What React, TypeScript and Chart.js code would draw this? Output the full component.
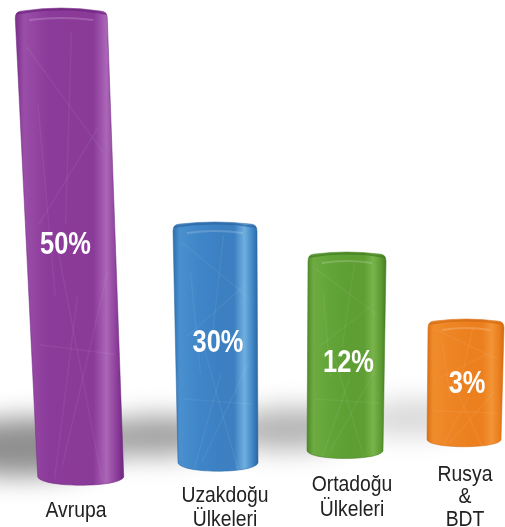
import React, { useEffect, useRef } from "react";
import { Chart, registerables, BarController, BarElement } from "chart.js";

const regions = ["Avrupa", "Uzakdoğu Ülkeleri", "Ortadoğu Ülkeleri", "Rusya & BDT"];
const shares = [50, 30, 12, 3];
const barPositions = [71, 216.5, 346, 465];
const barLows = [38, 52, 65, 77];
const barHighs = [519, 305, 275, 208];
const labelLines = [["Avrupa"], ["Uzakdoğu", "Ülkeleri"], ["Ortadoğu", "Ülkeleri"], ["Rusya", "&", "BDT"]];

const W = 505;
const H = 527;
const barFill = ["#8a3a98", "#3d82c4", "#5f9f35", "#ee8222"];
const barGradients = [
  ["#7a2e8a", "#9a4ea8", "#8b3b9a", "#8b3a98", "#8a3a98", "#ab66b8", "#8a3c98", "#6d2480"],
  ["#2f6fae", "#4a90cf", "#3f86c8", "#3c80c2", "#3c80c2", "#6fafe0", "#3f84c4", "#2b659f"],
  ["#4c8a28", "#6eab42", "#62a438", "#5e9e33", "#5e9e33", "#78b44a", "#5c9a32", "#447c22"],
  ["#d96f14", "#f08c2c", "#ee8424", "#ec801e", "#ec801e", "#f29436", "#ea7e1c", "#d06a12"],
];
// per bar: top width, bottom width, lean of the top relative to the bottom
const barShape = [
  { tw: 92, bw: 86, lean: -19.5, ry: 12, cap: 3 },
  { tw: 84, bw: 80, lean: -3, ry: 12, cap: 2 },
  { tw: 78, bw: 76, lean: 2, ry: 11, cap: 2 },
  { tw: 76, bw: 74, lean: 2, ry: 10, cap: 2 },
];
const pctStyle = [
  { x: 65.5, y: 254 },
  { x: 218, y: 352 },
  { x: 348.5, y: 372 },
  { x: 467, y: 393 },
];
const nameStyle = [
  { x: 76, y: [517] },
  { x: 225, y: [502, 526] },
  { x: 352, y: [491, 516] },
  { x: 465, y: [481, 503, 526] },
];
const shadows = [
  { x0: -40, x1: 95, y0: 418, y1: 476, c: "#8f8f8f" },
  { x0: 110, x1: 200, y0: 416, y1: 456, c: "#a0a0a0" },
  { x0: 250, x1: 330, y0: 408, y1: 450, c: "#b4b4b4" },
  { x0: 380, x1: 445, y0: 400, y1: 436, c: "#d8d8d8" },
];
// faint strokes on the cylinders, as fractions of the bar box
const streaks = [
  [0.1, 0.08, 0.9, 0.3], [0.15, 0.45, 0.85, 0.25], [0.3, 0.95, 0.9, 0.55], [0.1, 0.7, 0.95, 0.72],
  [0.35, 0.5, 0.75, 0.98], [0.55, 0.6, 0.2, 0.98], [0.2, 0.2, 0.3, 0.6], [0.6, 0.05, 0.45, 0.45],
];

class CylinderElement extends BarElement {
  static id = "cylinder";
  draw(ctx: CanvasRenderingContext2D) {
    const { x, y, base } = (this as any).getProps(["x", "y", "base"], true);
    const i = (this as any).$context.index;
    const s = barShape[i];
    const tc = x + s.lean / 2;
    const bc = x - s.lean / 2;
    const tl = tc - s.tw / 2, tr = tc + s.tw / 2;
    const bl = bc - s.bw / 2, br = bc + s.bw / 2;
    const r = 7;
    const path = () => {
      ctx.beginPath();
      ctx.moveTo(tl, y + r + s.cap);
      ctx.quadraticCurveTo(tl, y + s.cap, tl + r, y + s.cap);
      ctx.quadraticCurveTo(tc, y - s.cap, tr - r, y + s.cap);
      ctx.quadraticCurveTo(tr, y + s.cap, tr, y + r + s.cap);
      ctx.lineTo(br, base - s.ry);
      ctx.bezierCurveTo(br - 4, base - 1, bl + 4, base - 1, bl, base - s.ry);
      ctx.closePath();
    };
    ctx.save();
    path();
    const left = Math.min(tl, bl), right = Math.max(tr, br);
    const g = ctx.createLinearGradient(left, 0, right, 0);
    const stops = [0, 0.08, 0.3, 0.55, 0.72, 0.84, 0.94, 1];
    barGradients[i].forEach((c, k) => g.addColorStop(stops[k], c));
    ctx.fillStyle = g;
    ctx.fill();
    ctx.clip();
    ctx.strokeStyle = "rgba(255,255,255,0.055)";
    ctx.lineWidth = 1.5;
    streaks.forEach(([a, b, c, d]) => {
      const f = (u: number, v: number) => [tl + (bl - tl) * v + u * (s.tw + (s.bw - s.tw) * v), y + v * (base - y)];
      const p = f(a, b), q = f(c, d);
      ctx.beginPath();
      ctx.moveTo(p[0], p[1]);
      ctx.lineTo(q[0], q[1]);
      ctx.stroke();
    });
    ctx.strokeStyle = barGradients[i][7];
    ctx.globalAlpha = 0.7;
    ctx.lineWidth = 2;
    ctx.beginPath();
    ctx.moveTo(tl, y + s.cap + 3);
    ctx.quadraticCurveTo(tc, y - s.cap, tr, y + s.cap + 3);
    ctx.stroke();
    ctx.strokeStyle = "#ffffff";
    ctx.globalAlpha = 0.18;
    ctx.beginPath();
    ctx.moveTo(tl + 14, y + s.cap + 9);
    ctx.quadraticCurveTo(tc, y + s.cap + 5, tr - 14, y + s.cap + 9);
    ctx.stroke();
    ctx.restore();
    ctx.save();
    path();
    ctx.strokeStyle = barGradients[i][7];
    ctx.globalAlpha = 0.5;
    ctx.lineWidth = 1;
    ctx.stroke();
    ctx.restore();
  }
}

class CylinderController extends BarController {
  static id = "cylinder";
  static defaults = { ...BarController.defaults, dataElementType: "cylinder" };
}

const narrowText = (ctx: CanvasRenderingContext2D, text: string, x: number, y: number, sx: number) => {
  ctx.save();
  ctx.translate(x, y);
  ctx.scale(sx, 1);
  ctx.fillText(text, 0, 0);
  ctx.restore();
};

const cylinderExtras = {
  id: "cylinderExtras",
  beforeDatasetsDraw(chart: any) {
    const ctx = chart.ctx;
    ctx.save();
    ctx.filter = "blur(13px)";
    shadows.forEach((s) => {
      ctx.fillStyle = s.c;
      ctx.beginPath();
      ctx.ellipse((s.x0 + s.x1) / 2, (s.y0 + s.y1) / 2, (s.x1 - s.x0) / 2 + 22, (s.y1 - s.y0) / 2, -0.03, 0, Math.PI * 2);
      ctx.fill();
    });
    ctx.restore();
  },
  afterDatasetsDraw(chart: any) {
    const ctx = chart.ctx;
    const meta = chart.getDatasetMeta(0);
    ctx.save();
    ctx.textAlign = "center";
    ctx.textBaseline = "alphabetic";
    meta.data.forEach((_el: any, i: number) => {
      ctx.fillStyle = "#ffffff";
      ctx.font = 'bold 31px "Liberation Sans", sans-serif';
      narrowText(ctx, `${shares[i]}%`, pctStyle[i].x, pctStyle[i].y, 0.82);
      ctx.fillStyle = "#222222";
      ctx.font = '22px "Liberation Sans", sans-serif';
      labelLines[i].forEach((line, k) => {
        narrowText(ctx, line, nameStyle[i].x, nameStyle[i].y[k], 0.88);
      });
    });
    ctx.restore();
  },
};

Chart.register(...registerables, CylinderElement as any, CylinderController as any);

export default function App() {
  const ref = useRef<HTMLCanvasElement>(null);
  useEffect(() => {
    const chart = new Chart(ref.current!, {
      type: "cylinder" as any,
      data: {
        labels: regions,
        datasets: [
          {
            label: "Pay",
            data: barPositions.map((x, i) => ({ x, y: [barLows[i], barHighs[i]] })) as any,
            backgroundColor: barFill,
            barThickness: 80,
          } as any,
        ],
      },
      options: {
        responsive: false,
        animation: false,
        layout: { padding: 0 },
        plugins: { legend: { display: false }, tooltip: { enabled: false }, title: { display: false } },
        scales: {
          x: { type: "linear", min: 0, max: W, display: false, offset: false },
          y: { type: "linear", min: 0, max: H, display: false },
        },
      },
      plugins: [cylinderExtras],
    } as any);
    return () => chart.destroy();
  }, []);
  return (
    <div style={{ position: "absolute", left: 0, top: 0, width: W, height: H, background: "#fff", overflow: "hidden" }}>
      <canvas ref={ref} width={W} height={H} style={{ display: "block" }} />
    </div>
  );
}
